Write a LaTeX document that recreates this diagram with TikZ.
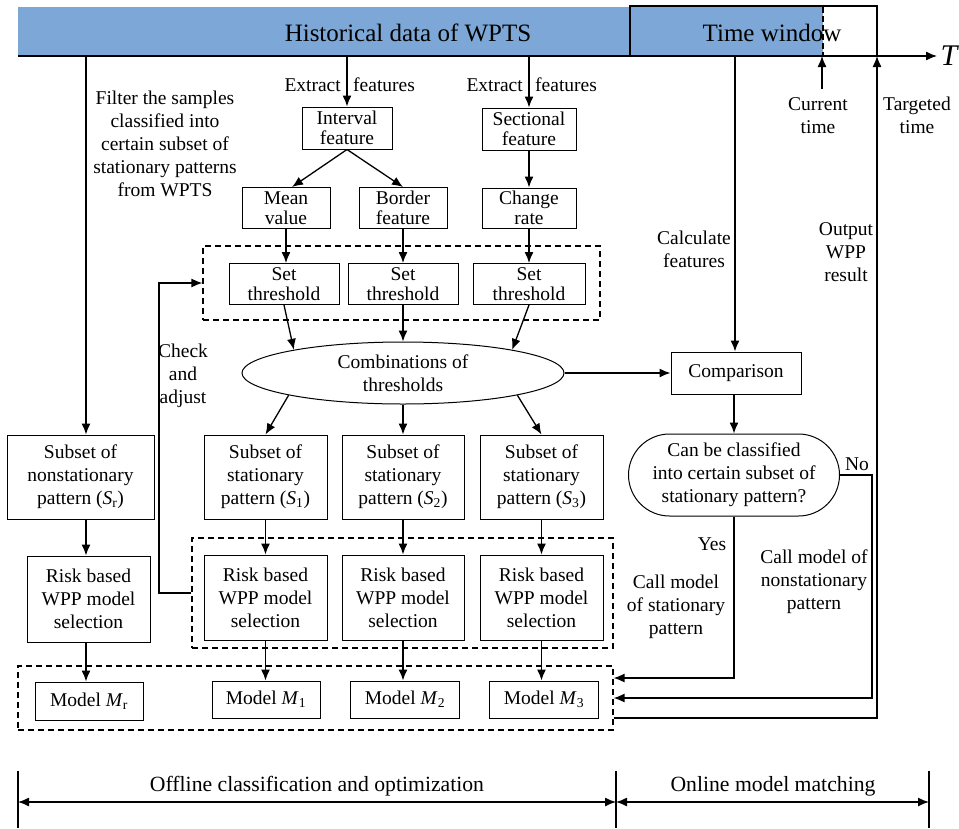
\documentclass[tikz,border=0pt]{standalone}
\usepackage{fontspec}
\setmainfont{Liberation Serif}
\usetikzlibrary{arrows.meta,shapes.geometric}
\definecolor{barblue}{RGB}{124,167,214}
\newcommand{\vsub}[2]{\textit{#1}\textsubscript{#2}}
\begin{document}
\begin{tikzpicture}[x=1pt,y=-1pt,
  every node/.style={font=\fontsize{19.5}{23}\selectfont},
  box/.style={draw,line width=1pt,align=center,inner sep=0pt},
  sbox/.style={box,font=\fontsize{19.5}{20}\selectfont},
  dbox/.style={draw,dash pattern=on 6pt off 4pt,line width=1.2pt,inner sep=0pt},
  arr/.style={-{Latex[length=11pt,width=9pt]},line width=1.3pt},
  darr/.style={{Latex[length=11pt,width=9pt]}-{Latex[length=11pt,width=9pt]},line width=1.3pt},
  ln/.style={line width=1.2pt},
  lbl/.style={align=center,inner sep=0pt},
  head/.style={font=\fontsize{25}{28}\selectfont,inner sep=0pt},
  phase/.style={lbl,font=\fontsize{21.7}{24}\selectfont}
]
\useasboundingbox (0,0) rectangle (959,828);

% ---------- top time bar ----------
\fill[barblue] (18,7) rectangle (823,56);
\node[draw,line width=1.2pt,minimum width=247pt,minimum height=50pt,inner sep=0pt] (tw) at (753.5,31) {};
\node[head] (hist) at (408,33) {Historical data of WPTS};
\node[head] (twl) at (772,33) {Time window};
\coordinate (dashT) at (823,7);
\coordinate (dashB) at (823,56);
\draw[line width=1.6pt,dash pattern=on 6pt off 3pt] (dashT) -- (dashB);
\coordinate (ax0) at (18,56);
\coordinate (axT) at (937,56);
\draw[arr] (ax0) -- (axT);
\node[font=\fontsize{30}{30}\selectfont\itshape,inner sep=0pt] (T) at (949,56) {T};

% ---------- feature extraction ----------
\node[sbox,minimum width=90pt,minimum height=42pt] (interval) at (347,128) {Interval\\feature};
\node[sbox,minimum width=94pt,minimum height=42pt] (sectional) at (529,129) {Sectional\\feature};
\node[sbox,minimum width=88pt,minimum height=41pt] (mean) at (286,208) {Mean\\value};
\node[sbox,minimum width=88pt,minimum height=41pt] (border) at (403,208) {Border\\feature};
\node[sbox,minimum width=94pt,minimum height=40pt] (change) at (529,208) {Change\\rate};

\node[dbox,minimum width=397pt,minimum height=74pt] (d1) at (401.5,283) {};
\node[sbox,minimum width=110pt,minimum height=41pt] (set1) at (284,284) {Set\\threshold};
\node[sbox,minimum width=110pt,minimum height=41pt] (set2) at (403,284) {Set\\threshold};
\node[sbox,minimum width=112pt,minimum height=41pt] (set3) at (529,284) {Set\\threshold};

\node[draw,ellipse,line width=1pt,inner sep=0pt,minimum width=322pt,minimum height=62pt,align=center] (comb) at (403,373) {Combinations of\\thresholds};

\coordinate (eA) at (347,56);
\coordinate (eB) at (529,56);
\draw[arr] (eA) -- (interval.north);
\draw[arr] (eB) -- (sectional.north);
\node[anchor=east,inner sep=0pt] (ex1) at (341,85) {Extract};
\node[anchor=west,inner sep=0pt] (fe1) at (353,85) {features};
\node[anchor=east,inner sep=0pt] (ex2) at (523,85) {Extract};
\node[anchor=west,inner sep=0pt] (fe2) at (535,85) {features};

\draw[arr] (interval.south) -- ([xshift=6pt]mean.north);
\draw[arr] (interval.south) -- (border.north);
\draw[arr] (sectional.south) -- (change.north);
\draw[arr] (mean.south) -- (mean.south |- set1.north);
\draw[arr] (border.south) -- (set2.north);
\draw[arr] (change.south) -- (set3.north);
\draw[arr] (set1.south) -- (comb.168);
\draw[arr] (set2.south) -- (comb.north);
\draw[arr] (set3.south) -- (comb.12);

% ---------- left: nonstationary ----------
\coordinate (fA) at (86,56);
\node[box,minimum width=147pt,minimum height=84pt] (sr) at (80.5,477) {Subset of\\nonstationary\\pattern (\vsub{S}{r})};
\node[box,minimum width=123pt,minimum height=86pt] (riskr) at (88.5,599) {Risk based\\WPP model\\selection};
\node[lbl] (filter) at (165,144) {Filter the samples\\classified into\\certain subset of\\stationary patterns\\from WPTS};
\draw[arr] (fA) -- (fA |- sr.north);
\draw[arr] (sr.south -| fA) -- (riskr.north -| fA);

% ---------- subsets / risk / models ----------
\node[box,minimum width=123pt,minimum height=84pt] (s1) at (265.5,477) {Subset of\\stationary\\pattern (\vsub{S}{1})};
\node[box,minimum width=122pt,minimum height=84pt] (s2) at (403,477) {Subset of\\stationary\\pattern (\vsub{S}{2})};
\node[box,minimum width=123pt,minimum height=84pt] (s3) at (541.5,477) {Subset of\\stationary\\pattern (\vsub{S}{3})};
\draw[arr] (comb.191) -- (s1.north);
\draw[arr] (comb.south) -- (s2.north);
\draw[arr] (comb.349) -- (s3.north);

\node[dbox,minimum width=421pt,minimum height=110pt] (d2) at (402.5,593) {};
\node[box,minimum width=123pt,minimum height=85pt] (r1) at (265.5,597.5) {Risk based\\WPP model\\selection};
\node[box,minimum width=122pt,minimum height=85pt] (r2) at (403,597.5) {Risk based\\WPP model\\selection};
\node[box,minimum width=123pt,minimum height=85pt] (r3) at (541.5,597.5) {Risk based\\WPP model\\selection};
\draw[arr] (s1.south) -- (r1.north);
\draw[arr] (s2.south) -- (r2.north);
\draw[arr] (s3.south) -- (r3.north);

\node[dbox,minimum width=595pt,minimum height=64pt] (d3) at (315.5,698) {};
\node[box,minimum width=108pt,minimum height=38pt] (mr) at (89,701) {Model \vsub{M}{r}};
\node[box,minimum width=108pt,minimum height=37pt] (m1) at (266,699.5) {Model \vsub{M}{1}};
\node[box,minimum width=109pt,minimum height=37pt] (m2) at (405,699.5) {Model \vsub{M}{2}};
\node[box,minimum width=109pt,minimum height=37pt] (m3) at (544,699.5) {Model \vsub{M}{3}};
\draw[arr] (riskr.south -| fA) -- (mr.north -| fA);
\draw[arr] (r1.south) -- (r1.south |- m1.north);
\draw[arr] (r2.south) -- (r2.south |- m2.north);
\draw[arr] (r3.south) -- (r3.south |- m3.north);

% ---------- check and adjust loop ----------
\coordinate (ckB) at (159,593);
\coordinate (ckT) at (159,283);
\draw[arr] (d2.west) -- (ckB) -- (ckT) -- (d1.west);
\node[lbl] (check) at (183,376) {Check\\and\\adjust};

% ---------- online part ----------
\coordinate (cA) at (735,56);
\node[box,minimum width=130pt,minimum height=42pt] (comp) at (736,373) {Comparison};
\node[box,rounded corners=41pt,minimum width=211pt,minimum height=82pt] (dec) at (734,475) {Can be classified\\into certain subset of\\stationary pattern?};
\draw[arr] (cA) -- (cA |- comp.north);
\draw[arr] (comb.east) -- (comp.west);
\draw[arr] (comp.south -| dec.north) -- (dec.north);
\node[lbl] (calc) at (694,249.5) {Calculate\\features};

\coordinate (cur0) at (822,89);
\coordinate (cur1) at (822,56);
\draw[arr] (cur0) -- (cur1);
\node[lbl] (curt) at (818,115.5) {Current\\time};
\node[lbl] (tgtt) at (917,115.5) {Targeted\\time};
\node[lbl] (outp) at (846,252.5) {Output\\WPP\\result};

\coordinate (yB) at (734,678);
\coordinate (nA) at (872,698);
\coordinate (tgB) at (877,718);
\coordinate (tgT) at (877,56);
\draw[arr] (dec.south) -- (yB) -- (d3.east |- yB);
\draw[arr] (dec.east) -- (dec.east -| nA) -- (nA) -- (d3.east |- nA);
\draw[arr] (d3.east |- tgB) -- (tgB) -- (tgT);
\node[lbl] (yes) at (712,544) {Yes};
\node[lbl] (no) at (857,464) {No};
\node[lbl] (cms) at (676,607) {Call model\\of stationary\\pattern};
\node[lbl] (cmn) at (814,582) {Call model of\\nonstationary\\pattern};

% ---------- bottom phases ----------
\coordinate (bl0) at (18,771);
\coordinate (bl1) at (18,828);
\coordinate (bm0) at (616,771);
\coordinate (bm1) at (616,828);
\coordinate (br0) at (929,771);
\coordinate (br1) at (929,828);
\draw[ln] (bl0) -- (bl1);
\draw[ln] (bm0) -- (bm1);
\draw[ln] (br0) -- (br1);
\coordinate (al) at (18,802);
\coordinate (am) at (616,802);
\coordinate (ar) at (929,802);
\draw[darr] (al) -- (am);
\draw[darr] (am) -- (ar);
\node[phase] (off) at (317,786) {Offline classification and optimization};
\node[phase] (on) at (773,786) {Online model matching};
\end{tikzpicture}
\end{document}
